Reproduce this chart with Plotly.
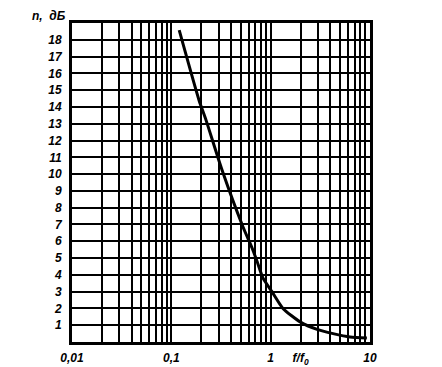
import plotly.graph_objects as go

# Curve
freq_ratio = [0.120, 0.190, 0.224, 0.324, 0.527, 0.650, 0.730, 0.838, 1.03, 1.33, 1.98, 2.93, 4.25, 6.3, 9.3]
noise_db = [18.57, 14.40, 13.20, 10.24, 6.85, 5.60, 4.80, 3.80, 3.00, 2.00, 1.20, 0.75, 0.50, 0.30, 0.24]

# Axis ticks
x_grid = [m * d for d in (0.01, 0.1, 1) for m in range(1, 10)] + [10]
x_labels = {0.01: "0,01", 0.1: "0,1", 1: "1", 2: "f/f<sub>0</sub>", 10: "10"}
y_ticks = list(range(1, 19))
y_labels = [str(v) for v in y_ticks]

x_text = []
for v in x_grid:
    key = None
    for k in x_labels:
        if abs(v - k) < 1e-9:
            key = k
    x_text.append("<b><i>" + x_labels[key] + "</i></b>" if key is not None else "")

fig = go.Figure()
fig.add_trace(go.Scatter(
    x=freq_ratio, y=noise_db, mode="lines",
    line=dict(color="black", width=3, shape="spline", smoothing=0.6),
    showlegend=False, hoverinfo="skip"))

font = dict(family="Liberation Sans", size=12, color="black")

fig.update_xaxes(
    type="log", range=[-2, 1], automargin=False,
    tickvals=x_grid, ticktext=x_text, ticks="",
    showgrid=True, gridcolor="black", gridwidth=1.5,
    showline=True, linecolor="black", linewidth=3, mirror=True,
    tickfont=font, ticklabelstandoff=3, zeroline=False)
fig.update_yaxes(
    range=[0, 19], automargin=False,
    tickvals=y_ticks, ticktext=["<b><i>" + t + "</i></b>" for t in y_labels], ticks="",
    showgrid=True, gridcolor="black", gridwidth=1.5,
    showline=True, linecolor="black", linewidth=3, mirror=True,
    tickfont=font, ticklabelstandoff=5, zeroline=False)

fig.add_annotation(
    xref="paper", yref="paper", x=-0.14, y=1.0, yshift=7,
    xanchor="left", yanchor="middle", showarrow=False,
    text="<b><i>n,  дБ</i></b>", font=font)

# page body adds an 8px offset; size the figure so the plot lands where the reference has it
fig.update_layout(
    width=434, height=359,
    margin=dict(l=64, r=72, t=15, b=25),
    paper_bgcolor="white", plot_bgcolor="white")

fig.write_html("out.html")
